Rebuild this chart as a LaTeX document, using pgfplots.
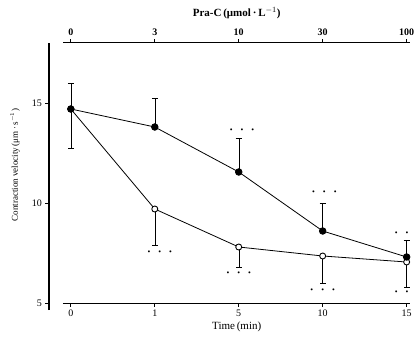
\documentclass[border=0pt]{standalone}
\usepackage{fontspec}
\setmainfont{Liberation Serif}
\usepackage{pgfplots}
\pgfplotsset{compat=1.18}
\begin{document}
\begin{tikzpicture}
\pgfplotsset{common/.style={scale only axis, width=361pt, height=260pt,
  xmin=-0.26, xmax=4.04, ymin=5, ymax=18,
  /pgf/number format/assume math mode=true,
  tick align=outside, major tick length=3.5pt,
  tick style={black, line width=0.8pt},
  clip=false, xtick={0,1,2,3,4}}}
\begin{axis}[common, axis x line*=bottom, axis y line*=left,
  x axis line style={-, shorten <=14pt, line width=1pt},
  y axis line style={-, shorten <=-7pt, line width=1.2pt},
  xticklabels={0,1,5,10,15}, ytick={5,10,15},
  ticklabel style={font=\normalsize},
  xlabel={Time\,(min)}, xlabel style={font=\fontsize{11}{13}\selectfont, at={(axis description cs:0.52,-0.092)}, anchor=center},
  ylabel={Contraction velocity\,(μm\,·\,s$^{-1}$)}, ylabel style={font=\small, at={(axis description cs:-0.094,0.53)}, anchor=center},
  every axis plot/.append style={line width=0.8pt}]
\coordinate (O) at (rel axis cs:0,0);
\addplot[black, mark=*, mark size=3pt, mark options={fill=white, line width=0.9pt},
  error bars/.cd, y dir=minus, y explicit,
  error mark options={rotate=90, mark size=3pt, line width=0.9pt}]
  coordinates {(0,14.7) +- (0,1.95) (1,9.7) +- (0,1.8) (2,7.8) +- (0,1.0) (3,7.35) +- (0,1.35) (4,7.05) +- (0,1.25)};
\addplot[black, mark=*, mark size=3.3pt,
  error bars/.cd, y dir=plus, y explicit,
  error mark options={rotate=90, mark size=3pt, line width=0.9pt}]
  coordinates {(0,14.7) +- (0,1.3) (1,13.8) +- (0,1.45) (2,11.55) +- (0,1.7) (3,8.6) +- (0,1.4) (4,7.3) +- (0,0.85)};
\def\ddd{{\footnotesize\textbullet\hspace{8pt}\textbullet\hspace{8pt}\textbullet}}
\def\dd{{\footnotesize\textbullet\hspace{8pt}\textbullet}}
\node at (axis cs:2.04,13.6) {\ddd};
\node at (axis cs:3.02,10.5) {\ddd};
\node at (axis cs:3.94,8.45) {\dd};
\node at (axis cs:1.06,7.5) {\ddd};
\node at (axis cs:2.0,6.45) {\ddd};
\node at (axis cs:3.0,5.6) {\ddd};
\node at (axis cs:3.94,5.5) {\dd};
\end{axis}
\begin{axis}[common, axis x line*=top, axis y line=none,
  x axis line style={-, shorten <=14pt, line width=1pt},
  xticklabels={0,3,10,30,100},
  ticklabel style={font=\normalsize\bfseries},
  xlabel={Pra-C\,(μmol\,·\,L$^{-1}$)}, xlabel style={font=\fontsize{11}{13}\selectfont\bfseries, at={(axis description cs:0.52,1.115)}, anchor=center}]
\end{axis}
\pgfresetboundingbox
\path[use as bounding box] ([shift={(-49pt,-42pt)}]O) rectangle ([shift={(370pt,303pt)}]O);
\end{tikzpicture}
\end{document}
